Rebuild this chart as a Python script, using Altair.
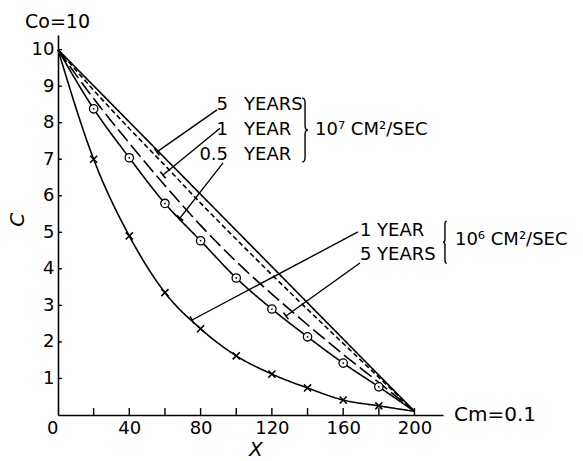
import math
import altair as alt
import pandas as pd

# ---- data ----
xs = [0, 20, 40, 60, 80, 100, 120, 140, 160, 180, 200]
solid_5y_e7 = [10.0, 9.01, 8.02, 7.03, 6.04, 5.05, 4.06, 3.07, 2.08, 1.09, 0.1]
shortdash_e7 = [10.0, 8.89, 7.84, 6.83, 5.80, 4.81, 3.84, 2.89, 1.96, 1.03, 0.1]
longdash_e7 = [10.0, 8.66, 7.44, 6.28, 5.19, 4.20, 3.31, 2.47, 1.66, 0.89, 0.1]
circle_curve = [10.0, 8.38, 7.04, 5.79, 4.77, 3.75, 2.90, 2.14, 1.42, 0.77, 0.1]
cross_curve = [10.0, 7.0, 4.9, 3.35, 2.36, 1.62, 1.12, 0.74, 0.41, 0.25, 0.1]

x_tick_labels = [0, 40, 80, 120, 160, 200]
x_minor_ticks = [20, 40, 60, 80, 100, 120, 140, 160, 180, 200]
y_tick_labels = [1, 2, 3, 4, 5, 6, 7, 8, 9, 10]

# leader lines (label end -> curve end), in data units
lead_x1 = [89.2, 90.9, 92.6, 168.3, 169.4]
lead_y1 = [8.35, 7.85, 6.90, 5.01, 4.16]
lead_x2 = [55.5, 58.9, 68.4, 75.2, 127.9]
lead_y2 = [7.20, 6.57, 5.39, 2.60, 2.71]

# 10^7 group labels
g7_nums = ["5", "1", "0.5"]
g7_words = ["YEARS", "YEAR", "YEAR"]
g7_y = [8.48, 7.80, 7.12]
g7_num_x = 95.4
g7_word_x = 104.4
# 10^6 group labels
g6_labels = ["1 YEAR", "5 YEARS"]
g6_y = [5.04, 4.38]
g6_x = 169.4

W, H = 385, 380
XMAX, YMAX = 216, 10.4

rows = []
for name, ys in [("solid", solid_5y_e7), ("short", shortdash_e7), ("long", longdash_e7),
                 ("circ", circle_curve), ("cross", cross_curve)]:
    for i, (x, y) in enumerate(zip(xs, ys)):
        rows.append({"series": name, "x": x, "y": y, "i": i})
curves = pd.DataFrame(rows)

xsc = alt.Scale(domain=[0, XMAX], nice=False, zero=False)
ysc = alt.Scale(domain=[0, YMAX], nice=False, zero=False)
FONT = "DejaVu Sans"

base = alt.Chart(curves)

lines = base.mark_line(interpolate="monotone", strokeWidth=1.6, color="black", clip=False).encode(
    x=alt.X("x:Q", scale=xsc, axis=alt.Axis(values=x_tick_labels, title=None, ticks=False,
            domainColor="black", domainWidth=1.6, labelFont=FONT, labelFontSize=18,
            labelColor="black", labelPadding=4, grid=False,
            labelAlign={"condition": {"test": "datum.value == 0", "value": "right"}, "value": "center"})),
    y=alt.Y("y:Q", scale=ysc, axis=alt.Axis(values=y_tick_labels, title=None, ticks=False,
            domainColor="black", domainWidth=1.6, labelFont=FONT, labelFontSize=18,
            labelColor="black", labelPadding=4, grid=False)),
    detail="series:N",
    strokeDash=alt.StrokeDash("series:N", legend=None,
        scale=alt.Scale(domain=["solid", "short", "long", "circ", "cross"],
                        range=[[1, 0], [5, 3], [15, 5], [1, 0], [1, 0]])),
)

circ_pts = base.transform_filter("datum.series == 'circ' && datum.x > 0 && datum.x < 200").mark_point(
    shape="circle", size=70, filled=True, fill="white", stroke="black", strokeWidth=1.3, opacity=1
).encode(x=alt.X("x:Q", scale=xsc), y=alt.Y("y:Q", scale=ysc))
circ_dots = base.transform_filter("datum.series == 'circ' && datum.x > 0 && datum.x < 200").mark_point(
    shape="circle", size=3, filled=True, color="black", opacity=1
).encode(x=alt.X("x:Q", scale=xsc), y=alt.Y("y:Q", scale=ysc))
cross_pts = base.transform_filter("datum.series == 'cross' && datum.x > 0 && datum.x < 200").mark_point(
    shape="M-1,-1L1,1M1,-1L-1,1", size=50, filled=False, stroke="black", strokeWidth=1.6, opacity=1
).encode(x=alt.X("x:Q", scale=xsc), y=alt.Y("y:Q", scale=ysc))

# inward minor ticks
xt = pd.DataFrame({"x": x_minor_ticks, "y": [0] * len(x_minor_ticks), "y2": [0.19] * len(x_minor_ticks)})
xticks = alt.Chart(xt).mark_rule(color="black", strokeWidth=1.4).encode(
    x=alt.X("x:Q", scale=xsc), y=alt.Y("y:Q", scale=ysc), y2="y2:Q")
yt = pd.DataFrame({"y": y_tick_labels, "x": [0] * 10, "x2": [2.2] * 10})
yticks = alt.Chart(yt).mark_rule(color="black", strokeWidth=1.4).encode(
    y=alt.Y("y:Q", scale=ysc), x=alt.X("x:Q", scale=xsc), x2="x2:Q")

# leader lines
ld = pd.DataFrame({"x": lead_x1, "y": lead_y1, "x2": lead_x2, "y2": lead_y2})
ld["ang"] = [
    (math.degrees(math.atan2(-(y2 - y1) * H / YMAX, (x2 - x1) * W / XMAX)) + 90) % 360
    for x1, y1, x2, y2 in zip(lead_x1, lead_y1, lead_x2, lead_y2)
]
leaders = alt.Chart(ld).mark_rule(color="black", strokeWidth=1.4).encode(
    x=alt.X("x:Q", scale=xsc), y=alt.Y("y:Q", scale=ysc), x2="x2:Q", y2="y2:Q")
leader_ends = alt.Chart(ld).mark_point(shape="stroke", size=70, filled=False, stroke="black",
                                       strokeWidth=1.6, opacity=1).encode(
    x=alt.X("x2:Q", scale=xsc), y=alt.Y("y2:Q", scale=ysc),
    angle=alt.Angle("ang:Q", scale=None))

def text_layer(df, align, size=18, style="normal", angle=0, weight="normal"):
    return alt.Chart(df).mark_text(align=align, baseline="middle", font=FONT, fontSize=size,
                                   fontStyle=style, angle=angle, color="black", fontWeight=weight,
                                   clip=False).encode(
        x=alt.X("x:Q", scale=xsc), y=alt.Y("y:Q", scale=ysc), text="t:N")

g7n = text_layer(pd.DataFrame({"x": [g7_num_x] * 3, "y": g7_y, "t": g7_nums}), "right")
g7w = text_layer(pd.DataFrame({"x": [g7_word_x] * 3, "y": g7_y, "t": g7_words}), "left")
g6 = text_layer(pd.DataFrame({"x": [g6_x] * 2, "y": g6_y, "t": g6_labels}), "left")
units = text_layer(pd.DataFrame({"x": [144.2, 222.7], "y": [7.80, 4.79],
                                 "t": ["10\u2077 CM\u00b2/SEC", "10\u2076 CM\u00b2/SEC"]}), "left")

# braces drawn as thin symbol paths
BRACE_R = "M-0.09,-1C0.02,-1 0,-0.9 0,-0.55L0,-0.14C0,-0.04 0.03,0 0.09,0C0.03,0 0,0.04 0,0.14L0,0.55C0,0.9 0.02,1 -0.09,1"
BRACE_L = "M0.09,-1C-0.02,-1 0,-0.9 0,-0.55L0,-0.14C0,-0.04 -0.03,0 -0.09,0C-0.03,0 0,0.04 0,0.14L0,0.55C0,0.9 -0.02,1 0.09,1"
brace7 = alt.Chart(pd.DataFrame({"x": [138.6], "y": [7.80]})).mark_point(
    shape=BRACE_R, size=4096, filled=False, stroke="black", strokeWidth=1.4, opacity=1).encode(
    x=alt.X("x:Q", scale=xsc), y=alt.Y("y:Q", scale=ysc))
brace6 = alt.Chart(pd.DataFrame({"x": [217.1], "y": [4.73]})).mark_point(
    shape=BRACE_L, size=1764, filled=False, stroke="black", strokeWidth=1.4, opacity=1).encode(
    x=alt.X("x:Q", scale=xsc), y=alt.Y("y:Q", scale=ysc))

cm = text_layer(pd.DataFrame({"x": [222.2], "y": [0.0], "t": ["Cm=0.1"]}), "left", size=20)
co = text_layer(pd.DataFrame({"x": [-18.5], "y": [10.76], "t": ["Co=10"]}), "left", size=19)
xtitle = text_layer(pd.DataFrame({"x": [111], "y": [-0.96], "t": ["X"]}), "center", size=20, style="italic")
ytitle = text_layer(pd.DataFrame({"x": [-22.4], "y": [5.34], "t": ["C"]}), "center", size=20,
                    style="italic", angle=270)

chart = alt.layer(lines, xticks, yticks, leaders, leader_ends, circ_pts, circ_dots, cross_pts,
                  g7n, g7w, g6, units, brace7, brace6, cm, co, xtitle, ytitle).properties(
    width=W, height=H, autosize="none",
    padding={"left": 58, "top": 35, "right": 140, "bottom": 46},
    background="white",
).configure_view(stroke=None)

chart.save("out.html", embed_options={"renderer": "svg", "actions": False})
